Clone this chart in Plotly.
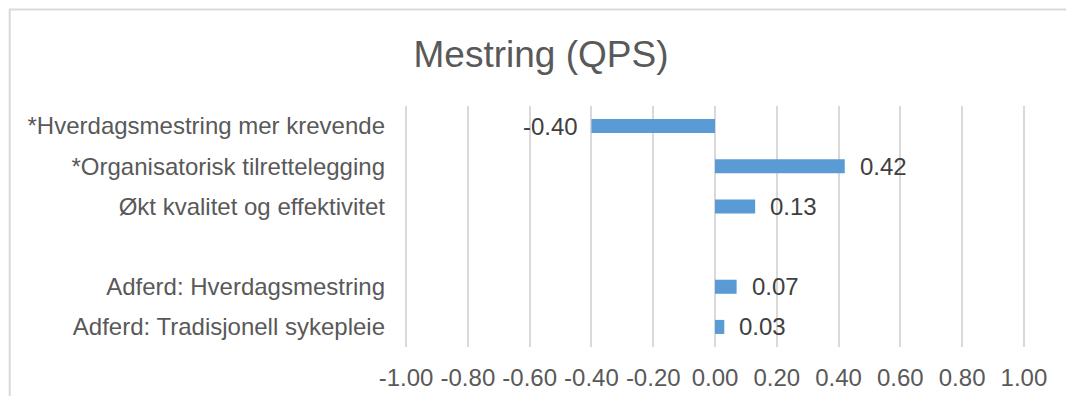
import plotly.graph_objects as go

# Categories (top to bottom); the blank entry is a spacer row
categories = [
    "*Hverdagsmestring mer krevende",
    "*Organisatorisk tilrettelegging",
    "Økt kvalitet og effektivitet",
    " ",
    "Adferd: Hverdagsmestring",
    "Adferd: Tradisjonell sykepleie",
]
values = [-0.40, 0.42, 0.13, None, 0.07, 0.03]
tick_vals = [-1.0, -0.8, -0.6, -0.4, -0.2, 0.0, 0.2, 0.4, 0.6, 0.8, 1.0]
tick_text = [f"{v:.2f}" for v in tick_vals]

W, H = 1066, 396
X_LO, X_HI = 406, 1024          # pixel positions of -1.00 and 1.00
PAD = 0.01                      # small range padding so edge gridlines stay drawn
px_per_unit = (X_HI - X_LO) / 2.0
ML = X_LO - PAD * px_per_unit
MR = W - (X_HI + PAD * px_per_unit)
MT, MB = 106, 49
FONT = "Liberation Sans, Arial, sans-serif"
GRID = "#d9d9d9"

fig = go.Figure()
fig.add_trace(go.Bar(
    y=categories,
    x=values,
    orientation="h",
    width=0.35,
    marker=dict(color="#5b9bd5", line=dict(width=0)),
    hoverinfo="x+y",
))

# value labels placed just beyond each bar end
annotations = []
for cat, v in zip(categories, values):
    if v is None:
        continue
    annotations.append(dict(
        x=v, y=cat, xref="x", yref="y",
        text=f"{v:.2f}",
        showarrow=False,
        xanchor="left" if v >= 0 else "right",
        xshift=13 if v >= 0 else -11,
        font=dict(family=FONT, size=24, color="#404040"),
    ))

# chart-area border (left and top edges visible inside the page)
pw = W - ML - MR
ph = H - MT - MB
def px_x(p):
    return (p - ML) / pw
def px_y(p):
    return (H - MB - p) / ph

shapes = [dict(
    type="rect", xref="paper", yref="paper",
    x0=px_x(9.5), x1=px_x(W + 20),
    y0=px_y(H + 20), y1=px_y(9.5),
    line=dict(color=GRID, width=2),
    fillcolor="rgba(0,0,0,0)",
    layer="below",
)]

fig.update_layout(
    width=W, height=H,
    margin=dict(l=ML, r=MR, t=MT, b=MB, pad=0, autoexpand=False),
    paper_bgcolor="white",
    plot_bgcolor="white",
    showlegend=False,
    title=dict(
        text="Mestring (QPS)",
        x=541 / W, xanchor="center", xref="container",
        y=1 - 54 / H, yanchor="middle", yref="container",
        font=dict(family=FONT, size=37, color="#595959"),
    ),
    xaxis=dict(
        range=[-1.0 - PAD, 1.0 + PAD],
        tickvals=tick_vals,
        ticktext=tick_text,
        showgrid=True, gridcolor=GRID, gridwidth=2,
        zeroline=True, zerolinecolor=GRID, zerolinewidth=2,
        showline=False,
        ticks="",
        ticklabelstandoff=14,
        automargin=False,
        tickfont=dict(family=FONT, size=24, color="#595959"),
        fixedrange=True,
    ),
    yaxis=dict(
        categoryorder="array",
        categoryarray=categories,
        autorange="reversed",
        showgrid=False, zeroline=False, showline=False,
        ticks="",
        ticklabelstandoff=17,
        automargin=False,
        tickfont=dict(family=FONT, size=24, color="#595959"),
        fixedrange=True,
    ),
    annotations=annotations,
    shapes=shapes,
)

fig.write_html("out.html")
